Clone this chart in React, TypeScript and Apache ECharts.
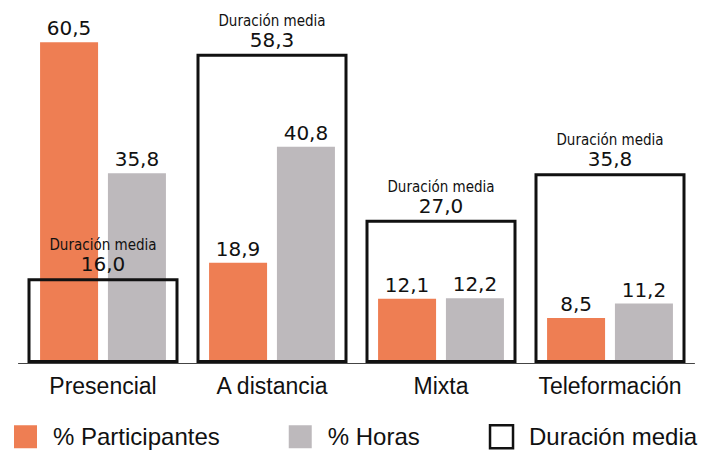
import React, { useEffect, useRef } from "react";
import * as echarts from "echarts";

const categories = ["Presencial", "A distancia", "Mixta", "Teleformación"];
const participantes = [60.5, 18.9, 12.1, 8.5];
const horas = [35.8, 40.8, 12.2, 11.2];
const duracionMedia = [16.0, 58.3, 27.0, 35.8];

const fmt = (v: number) => v.toFixed(1).replace(".", ",");

export default function App() {
  const ref = useRef<HTMLDivElement>(null);
  useEffect(() => {
    if (!ref.current) return;
    const chart = echarts.init(ref.current, null, { renderer: "svg" });
    const valueFont = "'DejaVu Sans', Verdana, sans-serif";
    const sansFont = "'Liberation Sans', Arial, Helvetica, sans-serif";
    chart.setOption({
      animation: false,
      grid: { left: 18.5, right: 17.5, top: 13, bottom: 87, containLabel: false },
      legend: {
        top: 424,
        left: 14,
        padding: 0,
        icon: "rect",
        itemWidth: 23,
        itemHeight: 23,
        itemGap: 69,
        textStyle: { fontSize: 24, color: "#111", fontFamily: sansFont, padding: [0, 0, 0, 11] },
        data: [
          { name: "% Participantes", itemStyle: { color: "#EE7E53" } },
          { name: "% Horas", itemStyle: { color: "#BDB9BC" } },
          {
            name: "Duración media",
            itemStyle: { color: "#fff", borderColor: "#111", borderWidth: 2.5 },
          },
        ],
      },
      xAxis: [
        {
          type: "category",
          data: categories,
          axisTick: { show: false },
          axisLine: { lineStyle: { color: "#444", width: 1 } },
          axisLabel: { interval: 0, fontSize: 23, color: "#111", fontFamily: sansFont, margin: 11 },
        },
        {
          type: "category",
          data: categories,
          show: false,
        },
      ],
      yAxis: { type: "value", min: 0, max: 66, show: false, splitLine: { show: false } },
      series: [
        {
          name: "% Participantes",
          type: "bar",
          xAxisIndex: 0,
          data: participantes,
          barWidth: 58,
          barGap: "17%",
          itemStyle: { color: "#EE7E53" },
          label: {
            show: true,
            position: "top",
            distance: 4,
            fontSize: 20,
            color: "#111",
            fontFamily: valueFont,
            formatter: (p: any) => fmt(p.value),
          },
          z: 2,
        },
        {
          name: "% Horas",
          type: "bar",
          xAxisIndex: 0,
          data: horas,
          barWidth: 58,
          barGap: "17%",
          itemStyle: { color: "#BDB9BC" },
          label: {
            show: true,
            position: "top",
            distance: 4,
            fontSize: 20,
            color: "#111",
            fontFamily: valueFont,
            formatter: (p: any) => fmt(p.value),
          },
          z: 2,
        },
        {
          name: "Duración media",
          type: "bar",
          xAxisIndex: 1,
          data: duracionMedia,
          barWidth: 151,
          itemStyle: { color: "rgba(255,255,255,0)", borderColor: "#111", borderWidth: 3 },
          label: {
            show: true,
            position: "top",
            distance: 4,
            formatter: (p: any) => `{a|Duración media}\n{b|${fmt(p.value)}}`,
            rich: {
              a: {
                fontSize: 15,
                lineHeight: 18,
                color: "#111",
                fontFamily: "'DejaVu Sans Condensed', 'Liberation Sans Narrow', sans-serif",
              },
              b: { fontSize: 20, lineHeight: 20, color: "#111", fontFamily: valueFont },
            },
          },
          z: 5,
        },
      ],
    });
    return () => chart.dispose();
  }, []);
  return <div ref={ref} style={{ width: 712, height: 450, position: "absolute", left: 0, top: 0 }} />;
}
